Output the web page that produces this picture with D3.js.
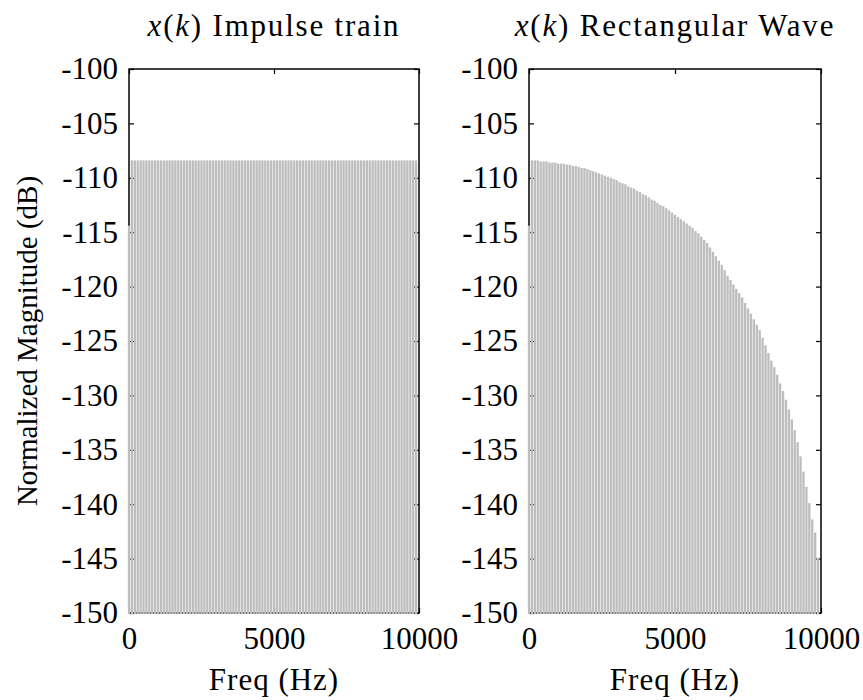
<!DOCTYPE html>
<html>
<head>
<meta charset="utf-8">
<script src="https://cdn.jsdelivr.net/npm/d3@7"></script>
<style>
  body { margin: 0; background: #fff; }
  svg text { font-family: "Liberation Serif", "DejaVu Serif", serif !important; fill: #000; }
</style>
</head>
<body>
<div class="playground"></div>
<script>
// frequency bins, 100 Hz apart (0 .. 9900 Hz)
var freqs = d3.range(0, 10000, 100);

var xTicks = [0, 5000, 10000];
var yTicks = [-100, -105, -110, -115, -120, -125, -130, -135, -140, -145, -150];

// impulse train: DC bin then flat harmonics
var impulseDb = [-114.4,
  -108.4, -108.4, -108.4, -108.4, -108.4, -108.4, -108.4, -108.4, -108.4, -108.4,
  -108.4, -108.4, -108.4, -108.4, -108.4, -108.4, -108.4, -108.4, -108.4, -108.4,
  -108.4, -108.4, -108.4, -108.4, -108.4, -108.4, -108.4, -108.4, -108.4, -108.4,
  -108.4, -108.4, -108.4, -108.4, -108.4, -108.4, -108.4, -108.4, -108.4, -108.4,
  -108.4, -108.4, -108.4, -108.4, -108.4, -108.4, -108.4, -108.4, -108.4, -108.4,
  -108.4, -108.4, -108.4, -108.4, -108.4, -108.4, -108.4, -108.4, -108.4, -108.4,
  -108.4, -108.4, -108.4, -108.4, -108.4, -108.4, -108.4, -108.4, -108.4, -108.4,
  -108.4, -108.4, -108.4, -108.4, -108.4, -108.4, -108.4, -108.4, -108.4, -108.4,
  -108.4, -108.4, -108.4, -108.4, -108.4, -108.4, -108.4, -108.4, -108.4, -108.4,
  -108.4, -108.4, -108.4, -108.4, -108.4, -108.4, -108.4, -108.4, -108.4];

// rectangular wave: harmonics roll off towards 10 kHz
var rectDb = [-114.4,
  -108.4, -108.4, -108.4, -108.5, -108.5, -108.5, -108.6, -108.6, -108.6, -108.7,
  -108.7, -108.7, -108.8, -108.8, -108.9, -108.9, -109.0, -109.1, -109.1, -109.2,
  -109.3, -109.4, -109.5, -109.6, -109.7, -109.8, -109.9, -110.0, -110.1, -110.2,
  -110.4, -110.5, -110.6, -110.8, -110.9, -111.0, -111.2, -111.3, -111.5, -111.6,
  -111.8, -112.0, -112.1, -112.3, -112.5, -112.6, -112.8, -113.0, -113.2, -113.4,
  -113.6, -113.8, -114.0, -114.2, -114.4, -114.6, -114.9, -115.1, -115.4, -115.7,
  -116.0, -116.4, -116.8, -117.2, -117.6, -118.0, -118.5, -119.0, -119.4, -119.8,
  -120.2, -120.6, -121.0, -121.5, -122.0, -122.5, -123.0, -123.5, -124.0, -124.7,
  -125.4, -126.1, -126.8, -127.4, -128.1, -128.9, -129.6, -130.4, -131.3, -132.2,
  -133.2, -134.3, -135.6, -137.0, -138.4, -139.9, -141.4, -142.6, -144.9];

var titles = ["Impulse train", "Rectangular Wave"];

var W = 863, H = 700;
var plotTop = 69, plotBottom = 613;
var serif = '"Liberation Serif", "DejaVu Serif", serif';
var panels = [{left: 129, right: 419, vals: impulseDb, title: titles[0]},
              {left: 529, right: 821, vals: rectDb, title: titles[1]}];

var svg = d3.select('body').select('.playground')
  .append('svg')
  .attr('width', W).attr('height', H)
  .style('font-family', serif);

svg.append('rect').attr('width', W).attr('height', H).attr('fill', '#fff');

var y = d3.scaleLinear().domain([-150, -100]).range([plotBottom, plotTop]);

function drawPanel(p) {
  var x = d3.scaleLinear().domain([0, 10000]).range([p.left, p.right]);
  var g = svg.append('g');

  // axes first, the bars go over them
  var yl = g.append('g').attr('transform', 'translate(' + p.left + ',0)')
    .call(d3.axisLeft(y).tickValues(yTicks).tickSize(-5).tickPadding(11)
      .tickFormat(function(d){ return String(d); }));
  var yr = g.append('g').attr('transform', 'translate(' + p.right + ',0)')
    .call(d3.axisRight(y).tickValues(yTicks).tickSize(-5).tickFormat(''));
  var xt = g.append('g').attr('transform', 'translate(0,' + plotTop + ')')
    .call(d3.axisTop(x).tickValues(xTicks).tickSize(-5).tickFormat(''));
  var xb = g.append('g').attr('transform', 'translate(0,' + plotBottom + ')')
    .call(d3.axisBottom(x).tickValues(xTicks).tickSize(-5).tickPadding(14)
      .tickFormat(function(d){ return String(d); }));

  [yl, yr, xt, xb].forEach(function(a){
    a.attr('font-family', null);
    a.select('.domain').remove();
    a.selectAll('line').attr('stroke', '#000').attr('stroke-width', 1.2);
    a.selectAll('text').attr('font-size', 31).attr('fill', '#000')
      .style('font-family', serif);
  });

  g.append('rect')
    .attr('x', p.left).attr('y', plotTop)
    .attr('width', p.right - p.left).attr('height', plotBottom - plotTop)
    .attr('fill', 'none').attr('stroke', '#000').attr('stroke-width', 1.5);

  var bw = x(80) - x(0);
  g.append('g').selectAll('rect')
    .data(freqs)
    .enter()
    .append('rect')
    .attr('x', function(d){ return x(d) - bw / 2; })
    .attr('y', function(d, i){ return y(p.vals[i]); })
    .attr('width', bw)
    .attr('height', function(d, i){ return y(-150) + 1 - y(p.vals[i]); })
    .attr('fill', '#bdbdbd');

  var t = svg.append('text')
    .attr('x', (p.left + p.right) / 2).attr('y', 36)
    .attr('text-anchor', 'middle').attr('font-size', 31)
    .attr('letter-spacing', 1.8)
    .style('font-family', serif);
  t.append('tspan').attr('font-style', 'italic').text('x');
  t.append('tspan').text('(');
  t.append('tspan').attr('font-style', 'italic').text('k');
  t.append('tspan').text(') ' + p.title);

  svg.append('text')
    .attr('x', (p.left + p.right) / 2).attr('y', 690)
    .attr('text-anchor', 'middle').attr('font-size', 31)
    .attr('letter-spacing', 1)
    .style('font-family', serif)
    .text('Freq (Hz)');
}

panels.forEach(drawPanel);

svg.append('text')
  .attr('transform', 'translate(37,' + (plotTop + plotBottom) / 2 + ') rotate(-90)')
  .attr('text-anchor', 'middle').attr('font-size', 29)
  .style('font-family', serif)
  .text('Normalized Magnitude (dB)');
</script>
</body>
</html>
